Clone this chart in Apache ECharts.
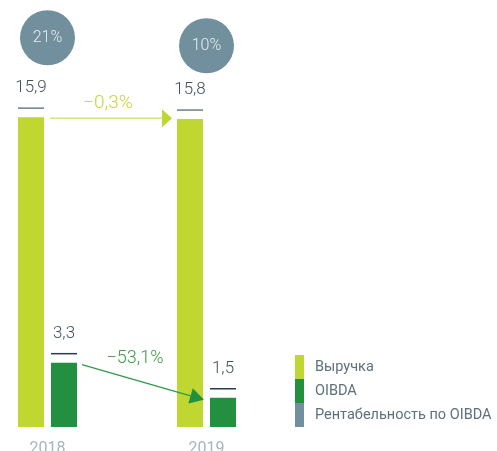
<!DOCTYPE html>
<html>
<head>
<meta charset="utf-8">
<script src="https://cdn.jsdelivr.net/npm/echarts@6/dist/echarts.min.js"></script>
<style>
  html, body { margin: 0; padding: 0; background: #ffffff; }
  #chart { width: 497px; height: 451px; }
</style>
</head>
<body>
<div id="chart"></div>
<script>
// Revenue and OIBDA by year (bn), OIBDA margin (%)
const years = ['2018', '2019'];
const revenue = [15.9, 15.8];
const oibda = [3.3, 1.5];
const margin = [21, 10];
const revenueChange = '\u22120,3%';
const oibdaChange = '\u221253,1%';

const FONT = 'Roboto, "Noto Sans", sans-serif';
const C_REV = '#bfd730';
const C_OIBDA = '#22903f';
const C_MARGIN = '#718f9c';
const BAR_W = 26;
const BAR_GAP = 7;

const fmt = v => v.toFixed(1).replace('.', ',');

function barLabel(lineColor) {
  return {
    show: true,
    position: 'top',
    distance: 8,
    formatter: p => '{v|' + fmt(p.value) + '}\n{l|}',
    rich: {
      v: { fontFamily: FONT, fontSize: 17, fontWeight: 300, color: '#3e525d', lineHeight: 38, align: 'center' },
      l: { width: BAR_W, height: 1.5, lineHeight: 2, backgroundColor: lineColor, align: 'center' }
    }
  };
}

const chart = echarts.init(document.getElementById('chart'), null, { renderer: 'canvas' });

const gridBase = { left: -32, width: 318, containLabel: false, outerBoundsMode: 'none' };

const option = {
  animation: false,
  backgroundColor: '#ffffff',
  textStyle: { fontFamily: FONT },
  legend: {
    orient: 'vertical',
    left: 295,
    top: 355,
    padding: 0,
    itemGap: 0,
    itemWidth: 9,
    itemHeight: 24,
    icon: 'rect',
    selectedMode: false,
    itemStyle: { opacity: 1 },
    textStyle: { fontFamily: FONT, fontSize: 14.5, color: '#5d707b', padding: [0, 0, 0, 6] },
    data: ['Выручка', 'OIBDA', 'Рентабельность по OIBDA']
  },
  grid: [
    Object.assign({ top: 8, height: 419 }, gridBase),
    Object.assign({ top: 29, height: 24 }, gridBase)
  ],
  xAxis: [
    {
      type: 'category', gridIndex: 0, data: years,
      axisLine: { show: false }, axisTick: { show: false },
      axisLabel: { color: '#a8b5bc', fontSize: 16, margin: 14, fontFamily: FONT }
    },
    {
      type: 'category', gridIndex: 1, data: years, show: false
    }
  ],
  yAxis: [
    { type: 'value', gridIndex: 0, min: 0, max: 21.5, show: false, splitLine: { show: false } },
    { type: 'value', gridIndex: 1, min: 0, max: 33, show: false, splitLine: { show: false } }
  ],
  series: [
    {
      name: 'Выручка', type: 'bar', xAxisIndex: 0, yAxisIndex: 0,
      data: revenue, barWidth: BAR_W, barGap: (BAR_GAP / BAR_W * 100) + '%',
      itemStyle: { color: C_REV },
      label: barLabel('#6b7f8a')
    },
    {
      name: 'OIBDA', type: 'bar', xAxisIndex: 0, yAxisIndex: 0,
      data: oibda, barWidth: BAR_W, barGap: (BAR_GAP / BAR_W * 100) + '%',
      itemStyle: { color: C_OIBDA },
      label: barLabel('#2a3d48')
    },
    {
      name: 'Рентабельность по OIBDA', type: 'scatter', xAxisIndex: 1, yAxisIndex: 1,
      data: margin, symbol: 'circle', symbolSize: 55, clip: false,
      itemStyle: { color: C_MARGIN, opacity: 1 },
      label: {
        show: true, position: 'inside', formatter: p => p.value + '%',
        color: '#e8eef1', fontSize: 16, fontWeight: 300, fontFamily: FONT
      }
    }
  ]
};

chart.setOption(option);

// Arrow with a triangular head from (x1,y1) to tip (x2,y2)
function arrow(x1, y1, x2, y2, lineColor, headColor, headLen, headHalf, lw) {
  const dx = x2 - x1, dy = y2 - y1;
  const len = Math.sqrt(dx * dx + dy * dy);
  const ux = dx / len, uy = dy / len;
  const bx = x2 - ux * headLen, by = y2 - uy * headLen;
  const px = -uy, py = ux;
  return [
    { type: 'line', z: 100, shape: { x1: x1, y1: y1, x2: bx, y2: by }, style: { stroke: lineColor, lineWidth: lw }, silent: true },
    { type: 'polygon', z: 100, shape: { points: [[x2, y2], [bx + px * headHalf, by + py * headHalf], [bx - px * headHalf, by - py * headHalf]] }, style: { fill: headColor }, silent: true }
  ];
}

const off = (BAR_W + BAR_GAP) / 2;
const p0 = chart.convertToPixel({ xAxisIndex: 0, yAxisIndex: 0 }, [0, revenue[0]]);
const p1 = chart.convertToPixel({ xAxisIndex: 0, yAxisIndex: 0 }, [1, revenue[1]]);
const q0 = chart.convertToPixel({ xAxisIndex: 0, yAxisIndex: 0 }, [0, oibda[0]]);
const q1 = chart.convertToPixel({ xAxisIndex: 0, yAxisIndex: 0 }, [1, oibda[1]]);

// Revenue: right edge of 2018 bar to left edge of 2019 bar
const rx1 = p0[0] - off + BAR_W / 2 + 6;
const rx2 = p1[0] - off - BAR_W / 2 - 5;
const ry = p0[1] + 1;
// OIBDA: top of 2018 bar to top of 2019 bar
const ox1 = q0[0] + off + BAR_W / 2 + 5;
const oy1 = q0[1] + 2;
const ox2 = q1[0] + off - BAR_W / 2 - 6;
const oy2 = q1[1] + 2;

const elements = []
  .concat(arrow(rx1, ry, rx2, ry, '#d3e380', C_REV, 10, 9, 1.5))
  .concat(arrow(ox1, oy1, ox2, oy2, '#2f9a4a', C_OIBDA, 14, 8, 1.3))
  .concat([
    {
      type: 'text', silent: true, z: 100,
      style: { text: revenueChange, x: (rx1 + rx2) / 2 - 3, y: ry - 15, align: 'center', verticalAlign: 'middle',
        fill: '#c3d737', fontSize: 19, fontWeight: 300, fontFamily: FONT }
    },
    {
      type: 'text', silent: true, z: 100,
      style: { text: oibdaChange, x: (ox1 + ox2) / 2 - 8, y: (oy1 + oy2) / 2 - 24, align: 'center', verticalAlign: 'middle',
        fill: '#3a9a4a', fontSize: 18, fontWeight: 300, fontFamily: FONT }
    }
  ]);

chart.setOption({ graphic: { elements: elements } });
</script>
</body>
</html>
